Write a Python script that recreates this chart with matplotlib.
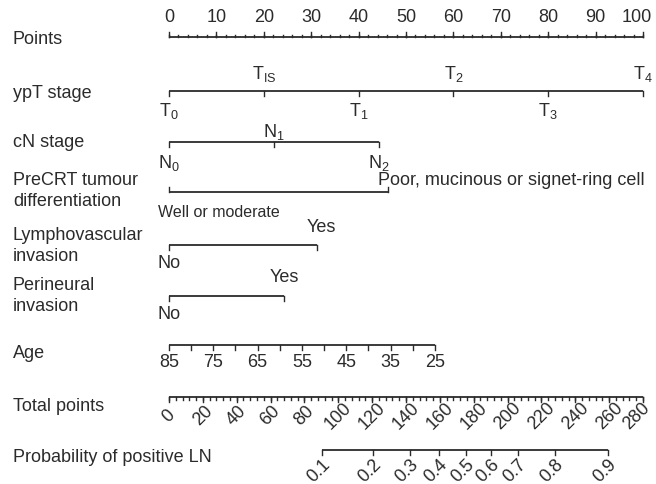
import numpy as np
import matplotlib
matplotlib.use('Agg')
import matplotlib.pyplot as plt

plt.rcParams['font.family'] = ['Liberation Sans', 'DejaVu Sans']
plt.rcParams['mathtext.fontset'] = 'custom'
plt.rcParams['mathtext.rm'] = 'Liberation Sans'
plt.rcParams['mathtext.it'] = 'Liberation Sans'

# ---- data ----
points_ticks = np.arange(0, 101, 10)
points_minor = np.arange(0, 101, 2)

ypt_labels = ['T_0', 'T_{IS}', 'T_1', 'T_2', 'T_3', 'T_4']
ypt_points = [0, 20, 40, 60, 80, 100]

cn_labels = ['N_0', 'N_1', 'N_2']
cn_points = [0, 22.2, 44.3]

diff_labels = ['Well or moderate', 'Poor, mucinous or signet-ring cell']
diff_points = [0, 46.2]

lvi_labels = ['No', 'Yes']
lvi_points = [0, 31.2]

pni_labels = ['No', 'Yes']
pni_points = [0, 24.3]

age_ticks = [85, 80, 75, 70, 65, 60, 55, 50, 45, 40, 35, 30, 25]
age_labels = [85, 75, 65, 55, 45, 35, 25]
age_range = [85, 25]
age_range_points = [0, 56.1]

total_ticks = np.arange(0, 281, 20)
total_minor = np.arange(0, 281, 4)
total_max = 280

prob_values = [0.1, 0.2, 0.3, 0.4, 0.5, 0.6, 0.7, 0.8, 0.9]
prob_total = [90.4, 120.5, 142.4, 159.5, 175.5, 190.3, 206.3, 228.1, 259.4]

row_names = ['Points', 'ypT stage', 'cN stage', 'PreCRT tumour\ndifferentiation',
             'Lymphovascular\ninvasion', 'Perineural\ninvasion', 'Age',
             'Total points', 'Probability of positive LN']

# ---- layout (pixel rows, x in points) ----
W, H = 656, 485
x0, x100 = 169, 643
ppp = (x100 - x0) / 100.0
row_y = [38, 92, 143, 193, 246, 297, 346, 398, 451]
label_y = [40, 93, 143, 191, 246, 296, 354, 407, 458]

fig = plt.figure(figsize=(W / 100, H / 100), dpi=100)
ax = fig.add_axes([0, 0, 1, 1])
ax.set_xlim(-x0 / ppp, (W - x0) / ppp)
ax.set_ylim(H, 0)
ax.axis('off')

col = '#2b2b2b'
fs = 13
lw = 1.3


def axis_line(y, a, b):
    ax.plot([a, b], [y, y], color=col, lw=lw, solid_capstyle='butt')


def ticks(y, xs, length):
    for x in xs:
        ax.plot([x, x], [y, y + length], color=col, lw=1.0)


def math(s):
    return r'$\mathregular{' + s + '}$'


# row labels
for name, y in zip(row_names, label_y):
    ax.text(-x0 / ppp + 13 / ppp, y, name, fontsize=fs, color=col,
            ha='left', va='center', linespacing=1.25 if '\n' in name else 1.0)

# Points
y = row_y[0]
axis_line(y, 0, 100)
ticks(y, points_ticks, -5)
ticks(y, points_minor, -2.5)
for v in points_ticks:
    shift = -6 / ppp if v == points_ticks[-1] else 0
    ax.text(v + shift, 18, str(v), fontsize=fs, color=col, ha='center', va='center')

# ypT stage
y = row_y[1]
axis_line(y, ypt_points[0], ypt_points[-1])
ticks(y, ypt_points, 5)
for i, (lab, v) in enumerate(zip(ypt_labels, ypt_points)):
    if i % 2 == 0:
        ax.text(v, 111, math(lab), fontsize=fs, color=col, ha='center', va='center')
    else:
        ax.text(v, 74, math(lab), fontsize=fs, color=col, ha='center', va='center')

# cN stage
y = row_y[2]
axis_line(y, cn_points[0], cn_points[-1])
ticks(y, cn_points, 5)
ax.text(cn_points[0], 163, math(cn_labels[0]), fontsize=fs, color=col, ha='center', va='center')
ax.text(cn_points[1], 132, math(cn_labels[1]), fontsize=fs, color=col, ha='center', va='center')
ax.text(cn_points[2], 163, math(cn_labels[2]), fontsize=fs, color=col, ha='center', va='center')

# PreCRT tumour differentiation
y = row_y[3]
axis_line(y, diff_points[0], diff_points[-1])
ticks(y, diff_points, -5)
ax.text(diff_points[0] - 11 / ppp, 213, diff_labels[0], fontsize=11.5, color=col,
        ha='left', va='center')
ax.text(diff_points[1] - 10 / ppp, 181, diff_labels[1], fontsize=fs, color=col,
        ha='left', va='center')

# Lymphovascular invasion
y = row_y[4]
axis_line(y, lvi_points[0], lvi_points[-1])
ticks(y, lvi_points, 5)
ax.text(lvi_points[0], 264, lvi_labels[0], fontsize=fs, color=col, ha='center', va='center')
ax.text(lvi_points[1] + 4 / ppp, 228, lvi_labels[1], fontsize=fs, color=col, ha='center', va='center')

# Perineural invasion
y = row_y[5]
axis_line(y, pni_points[0], pni_points[-1])
ticks(y, pni_points, 5)
ax.text(pni_points[0], 315, pni_labels[0], fontsize=fs, color=col, ha='center', va='center')
ax.text(pni_points[1], 278, pni_labels[1], fontsize=fs, color=col, ha='center', va='center')

# Age
y = row_y[6]
age_x = np.interp(age_ticks, age_range[::-1], age_range_points[::-1])
axis_line(y, age_x.min(), age_x.max())
ticks(y, age_x, 5)
for a in age_labels:
    ax.text(np.interp(a, age_range[::-1], age_range_points[::-1]), 363, str(a),
            fontsize=fs, color=col, ha='center', va='center')

# Total points
y = row_y[7]
axis_line(y, 0, 100)
ticks(y, total_ticks * 100 / total_max, 5)
ticks(y, total_minor * 100 / total_max, 2.5)
for v in total_ticks:
    shift = -6 / ppp if v == total_ticks[-1] else 0
    ax.text(v * 100 / total_max + shift, 416, str(v), fontsize=fs, color=col,
            ha='center', va='center', rotation=45)

# Probability
y = row_y[8]
px = np.array(prob_total) * 100 / total_max
axis_line(y, px[0], px[-1])
ticks(y, px, 5)
for p, x in zip(prob_values, px):
    ax.text(x - 3 / ppp, 471, str(p), fontsize=fs, color=col,
            ha='center', va='center', rotation=45)

fig.savefig('out.png', dpi=100)
